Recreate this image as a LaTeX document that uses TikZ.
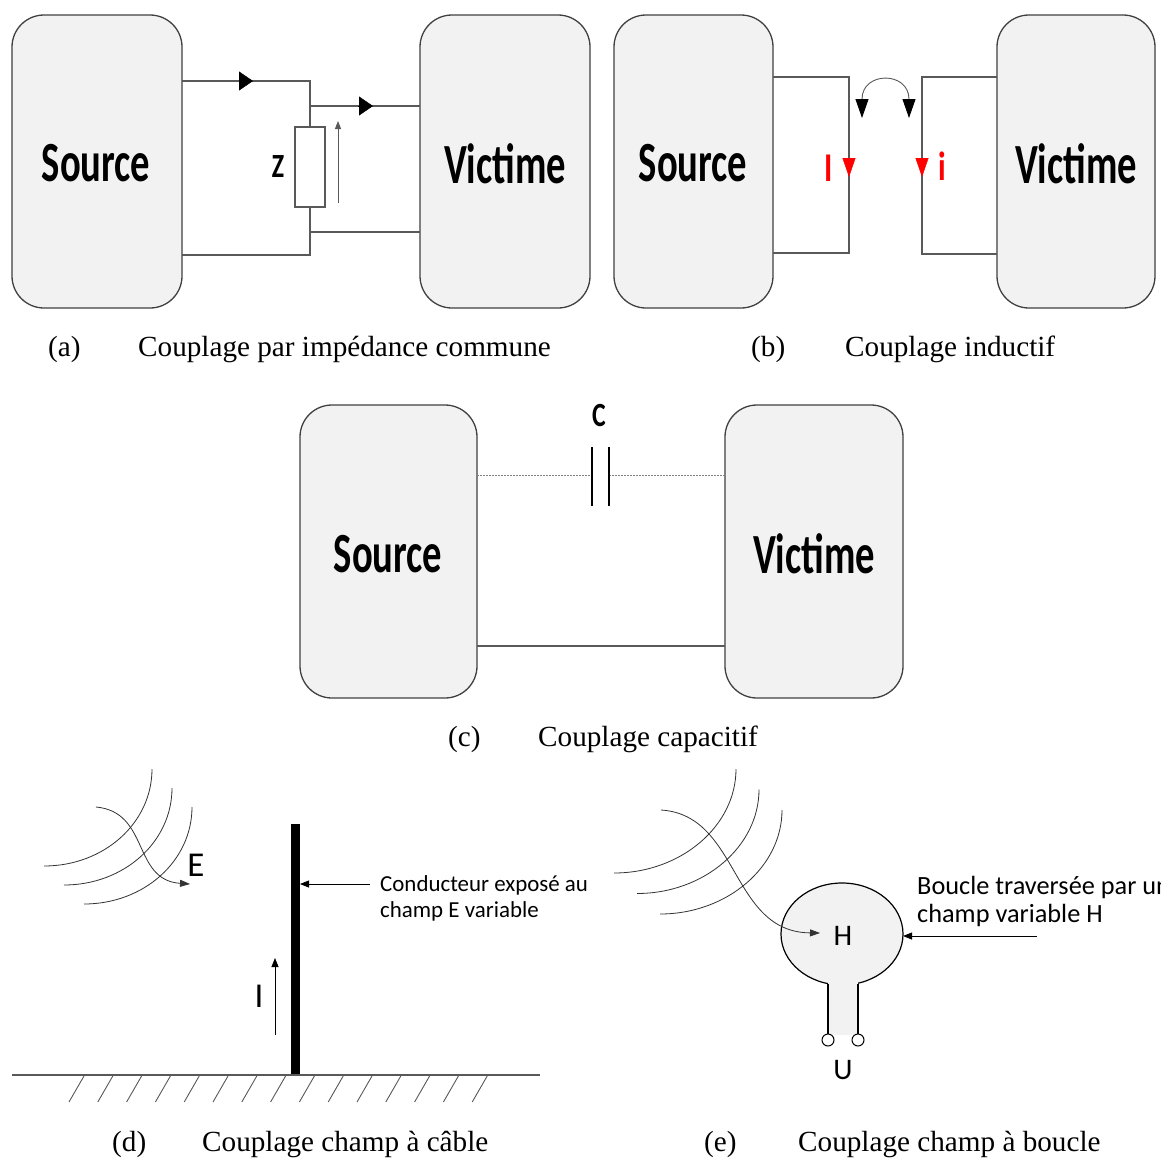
\documentclass[tikz,border=0pt]{standalone}
\usepackage{fontspec}
\setmainfont{Liberation Serif}
\newfontfamily\calfont{Carlito}
\usetikzlibrary{arrows.meta,shapes.geometric}
\definecolor{boxfill}{HTML}{F2F2F2}
\definecolor{boxline}{HTML}{404040}
\definecolor{wirec}{HTML}{595959}
\newcommand\cond[1]{\scalebox{0.68}[1]{#1}}
\newcommand\condl[1]{\scalebox{0.76}[1]{#1}}
\tikzset{
  box/.style={draw=boxline, fill=boxfill, rounded corners=32bp, line width=1.3bp, inner sep=0pt, outer sep=0pt, minimum height=293bp},
  boxtext/.style={font=\calfont\bfseries\fontsize{57}{57}\selectfont, inner sep=0pt},
  cletter/.style={font=\calfont\bfseries\fontsize{34}{34}\selectfont, inner sep=0pt},
  redletter/.style={font=\calfont\bfseries\fontsize{41}{41}\selectfont, inner sep=0pt, text=red},
  wire/.style={draw=wirec, line width=1.2bp},
  res/.style={draw=wirec, fill=white, line width=1.2bp, minimum width=30bp, minimum height=80bp, inner sep=0pt, outer sep=0pt},
  bigtip/.style={-{Triangle[length=14bp,width=19bp]}, black},
  redtip/.style={-{Triangle[length=19bp,width=13bp]}, red},
  thinarrow/.style={draw=wirec, line width=1bp, -{Triangle[length=8bp,width=6bp]}},
  ptr/.style={draw=black, line width=0.8bp, -{Triangle[length=9bp,width=7bp]}},
  field/.style={draw=black!80, line width=0.8bp},
  caption/.style={font=\fontsize{29.3}{29.3}\selectfont, inner sep=0pt, anchor=base west},
  lbl/.style={font=\calfont\fontsize{23}{28}\selectfont, inner sep=0pt, anchor=base west},
  lble/.style={font=\calfont\fontsize{26.4}{28}\selectfont, inner sep=0pt, anchor=base west},
  biglbl/.style={font=\calfont\fontsize{35}{35}\selectfont, inner sep=0pt},
  midlbl/.style={font=\calfont\fontsize{30}{30}\selectfont, inner sep=0pt},
  plate/.style={draw=black, line width=2.5bp},
  dotwire/.style={draw=gray, line width=1bp, dash pattern=on 1.5bp off 1.5bp},
}
\begin{document}
\begin{tikzpicture}[x=1bp,y=-1bp]
\useasboundingbox (0,0) rectangle (1161,1158);
\fill[white] (0,0) rectangle (1161,1158);

% ---------------- (a) ----------------
\node[box, minimum width=170bp] (srcA) at (97,161.5) {};
\node[boxtext] (srcAt) at (96,163.5) {\cond{Source}};
\node[box, minimum width=170bp] (vicA) at (505,161.5) {};
\node[boxtext] (vicAt) at (505,163.5) {\cond{Victime}};
\node[res] (Z) at (310,167) {};
\node[cletter] (Zl) at (278,167) {\condl{Z}};
\coordinate (a1) at (310,81);
\coordinate (a2) at (310,255);
\coordinate (a3) at (310,106);
\coordinate (a4) at (310,232);
\draw[wire] (srcA.east|-a1) -- (a1) -- (Z.north);
\draw[wire] (Z.south) -- (a2) -- (srcA.east|-a2);
\draw[wire] (a3) -- (vicA.west|-a3);
\draw[wire] (a4) -- (vicA.west|-a4);
\draw[bigtip] (239,81) -- (253,81);
\draw[bigtip] (358,106) -- (373,106);
\coordinate (va1) at (338,203);
\coordinate (va2) at (338,121);
\draw[thinarrow] (va1) -- (va2);
\node[caption] (capa1) at (48,356) {(a)};
\node[caption] (capa2) at (138,356) {Couplage par impédance commune};

% ---------------- (b) ----------------
\node[box, minimum width=159bp] (srcB) at (693.5,161.5) {};
\node[boxtext] (srcBt) at (693,163.5) {\cond{Source}};
\node[box, minimum width=158bp] (vicB) at (1076,161.5) {};
\node[boxtext] (vicBt) at (1076,163.5) {\cond{Victime}};
\coordinate (b1) at (849,77);
\coordinate (b2) at (849,253);
\coordinate (b3) at (922,77);
\coordinate (b4) at (922,254);
\draw[wire] (srcB.east|-b1) -- (b1) -- (b2) -- (srcB.east|-b2);
\draw[wire] (vicB.west|-b3) -- (b3) -- (b4) -- (vicB.west|-b4);
\draw[redtip] (849,158) -- (849,177);
\draw[redtip] (922,158) -- (922,177);
\node[redletter] (bI) at (829,168) {\condl{I}};
\node[redletter] (bi) at (942,166) {\condl{i}};
\draw[draw=wirec, line width=0.9bp, {Triangle[length=19bp,width=13bp,color=black]}-{Triangle[length=19bp,width=13bp,color=black]}]
  (862,118) .. controls (862,71) and (909,71) .. (909,118);
\node[caption] (capb1) at (751,356) {(b)};
\node[caption] (capb2) at (845,356) {Couplage inductif};

% ---------------- (c) ----------------
\node[box, minimum width=177bp] (srcC) at (388.5,551.5) {};
\node[boxtext] (srcCt) at (388,554) {\cond{Source}};
\node[box, minimum width=178bp] (vicC) at (814,551.5) {};
\node[boxtext] (vicCt) at (814,554) {\cond{Victime}};
\coordinate (c1) at (592,475);
\coordinate (c2) at (609,475);
\coordinate (c3) at (600,646);
\draw[dotwire] (srcC.east|-c1) -- (c1);
\draw[dotwire] (c2) -- (vicC.west|-c2);
\draw[plate] (592,447) -- (592,506);
\draw[plate] (609,447) -- (609,506);
\node[cletter] (Cl) at (599,416) {\condl{C}};
\draw[wire] (srcC.east|-c3) -- (vicC.west|-c3);
\node[caption] (capc1) at (448,746) {(c)};
\node[caption] (capc2) at (538,746) {Couplage capacitif};

% ---------------- (d) ----------------
\foreach \k in {0,1,2} {
  \draw[field] ({152+20*\k},{769+19*\k}) .. controls ({152+20*\k},{823+19*\k}) and ({104+20*\k},{866+19*\k}) .. ({44+20*\k},{866+19*\k});
}
\coordinate (eS) at (96,807);
\coordinate (eT) at (190,884);
\draw[field, -{Triangle[length=10bp,width=7bp]}] (eS) .. controls (150,812) and (132,880) .. (eT);
\node[biglbl] (El) at (196,865) {E};
\node[fill=black, minimum width=9bp, minimum height=251bp, inner sep=0pt, outer sep=0pt] (cond) at (295.5,949.5) {};
\draw[wire] (12,1075) -- (540,1075);
\foreach \i in {0,...,14} {
  \draw[wire, line width=0.9bp] ({69+28.8*\i},1102) -- ++(15,-26);
}
\coordinate (dp) at (370,884);
\draw[ptr] (dp) -- (cond.east|-dp);
\node[lbl] (dt1) at (380,891) {Conducteur exposé au};
\node[lbl] (dt2) at (380,917) {champ E variable};
\coordinate (iA) at (275,1035);
\coordinate (iB) at (275,958);
\draw[ptr] (iA) -- (iB);
\node[biglbl] (Il) at (259,996) {I};
\node[caption] (capd1) at (112,1151) {(d)};
\node[caption] (capd2) at (202,1151) {Couplage champ à câble};

% ---------------- (e) ----------------
\foreach \k in {0,1,2} {
  \draw[field] ({736+23*\k},{769+20.5*\k}) .. controls ({736+23*\k},{826+20.5*\k}) and ({681+23*\k},{873+20.5*\k}) .. ({614+23*\k},{873+20.5*\k});
}
\node[draw=black, fill=boxfill, line width=1.2bp, ellipse, minimum width=122bp, minimum height=102bp, inner sep=0pt, outer sep=0pt] (loop) at (842,934) {};
\fill[boxfill] (828,975) rectangle (858,1035);
\coordinate (tL) at (828,1040);
\coordinate (tR) at (858,1040);
\draw[draw=black, line width=1.2bp] (828,983.6) -- (828,1034);
\draw[draw=black, line width=1.2bp] (858,983.6) -- (858,1034);
\draw[draw=black, fill=white, line width=1bp] (tL) circle (6);
\draw[draw=black, fill=white, line width=1bp] (tR) circle (6);
\coordinate (hS) at (661,810);
\coordinate (hT) at (820,933);
\draw[field, -{Triangle[length=10bp,width=7bp]}] (hS) .. controls (740,815) and (730,932) .. (hT);
\node[midlbl] (Hl) at (843,936) {H};
\node[midlbl] (Ul) at (843,1070) {U};
\coordinate (ep) at (1037,936);
\draw[ptr] (ep) -- (loop.east|-ep);
\node[lble] (et1) at (917,894) {Boucle traversée par un};
\node[lble] (et2) at (917,922) {champ variable H};
\node[caption] (cape1) at (704,1151) {(e)};
\node[caption] (cape2) at (798,1151) {Couplage champ à boucle};
\end{tikzpicture}
\end{document}
